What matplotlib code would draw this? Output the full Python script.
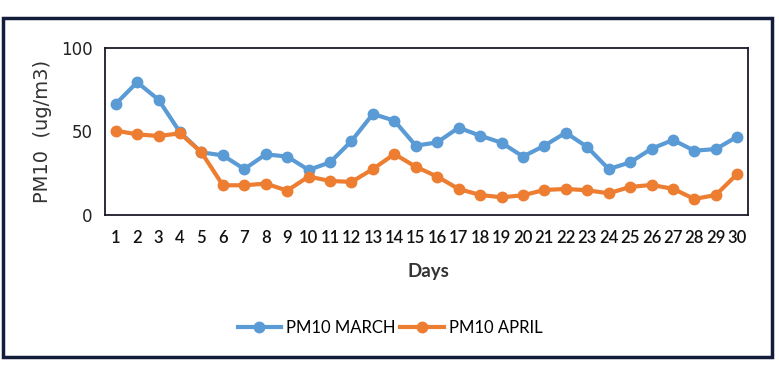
import matplotlib
matplotlib.use("Agg")
import matplotlib.pyplot as plt
from matplotlib.patches import Rectangle
from matplotlib.lines import Line2D

days = [str(d) for d in range(1, 31)]
pm10_march = [66.5, 79.5, 69, 49.5, 37.5, 35.7, 27.5, 36.3, 35, 27, 31.5, 44.3, 60.5, 56.5,
              41.5, 43.5, 52.3, 47.5, 43.3, 35, 41.5, 49.3, 40.7, 27.5, 31.5, 39.7, 44.9, 38.5, 39.5, 46.9]
pm10_april = [50.5, 48.3, 47.3, 48.9, 37.5, 17.8, 17.8, 18.8, 14.6, 23, 20.4, 19.8, 27.5, 36.5,
              28.9, 23, 15.6, 12, 10.6, 11.8, 15, 15.6, 14.8, 13, 16.8, 18, 15.7, 9.6, 12, 24.6]
series_labels = ["PM10 MARCH", "PM10 APRIL"]
yticks = [0, 50, 100]

blue = "#5b9bd5"
orange = "#ed7d31"

fig = plt.figure(figsize=(7.79, 3.69), dpi=100)
ax = fig.add_axes([105/779, 1-215/369, 643/779, 167/369])

x = list(range(1, 31))
ax.plot(x, pm10_march, color=blue, lw=3, marker="o", ms=7.5, zorder=3)
ax.plot(x, pm10_april, color=orange, lw=3, marker="o", ms=7.5, zorder=3)

ax.set_xlim(0.5, 30.5)
ax.set_ylim(0, 100)
ax.set_xticks(x)
ax.set_xticklabels(days, fontsize=12, family="Lato", fontweight="semibold", color="#111111")
ax.set_yticks(yticks)
ax.set_yticklabels([str(v) for v in yticks], fontsize=12, color="#222222")
ax.tick_params(length=0, pad=9)
ax.tick_params(axis="x", pad=11)
for s in ax.spines.values():
    s.set_color("#1a1a2a")
    s.set_linewidth(1.3)

ax.set_ylabel("PM10  (ug/m3)", fontsize=14, color="#333333", va="center")
ax.yaxis.set_label_coords(-0.098, 0.5)
ax.yaxis.label.set_position((0, 0.5))
ax.yaxis.set_label_coords(-(105 - 43) / 643, 0.5)
fig.text(428/779, 1-271/369, "Days", ha="center", va="center",
         family="Lato", fontweight="bold", fontsize=13.5, color="#333333")

handles = [Line2D([], [], color=blue, lw=3, marker="o", ms=7.5),
           Line2D([], [], color=orange, lw=3, marker="o", ms=7.5)]
fig.legend(handles, series_labels, loc="center", bbox_to_anchor=(390/779, 1-328/369),
           ncol=2, frameon=False, handlelength=2.6, columnspacing=0.3,
           handletextpad=0.3, prop={"family": "Lato", "size": 12})

fig.patches.append(Rectangle((3/779, 1-357/369), 769/779, 339/369, transform=fig.transFigure,
                             fill=False, edgecolor="#141c3c", lw=2.5))

fig.savefig("out.png", dpi=100)
